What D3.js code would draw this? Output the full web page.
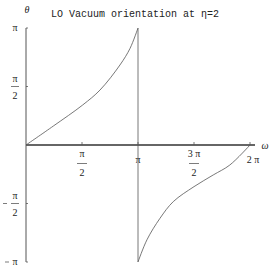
<!DOCTYPE html>
<html>
<head>
<meta charset="utf-8">
<script src="https://cdn.jsdelivr.net/npm/d3@7"></script>
<style>
  body { margin: 0; background: #fff; }
  text { fill: #222; }
</style>
</head>
<body>
<script>
// values, in units of pi
var omega = [0, 0.244, 0.506, 0.661, 0.839, 0.929, 1.0, 1.0, 1.08, 1.196, 1.315, 1.5, 1.672, 1.82, 2.0];
var theta = [0, 0.162, 0.342, 0.47, 0.684, 0.826, 1.0, -1.0, -0.81, -0.627, -0.484, -0.356, -0.256, -0.171, 0];
var xTicks = [0.5, 1, 1.5, 2];
var xTickLabels = [["π", "2"], ["π"], ["3 π", "2"], ["2 π"]];
var yTicks = [1, 0.5, -0.5, -1];
var yTickLabels = [["π"], ["π", "2"], ["π", "2"], ["π"]];
var yTickSigns = ["", "", "-", "-"];

var width = 273, height = 273;
var svg = d3.select("body").append("svg")
    .attr("width", width)
    .attr("height", height);

var x = d3.scaleLinear().domain([0, 2 * Math.PI]).range([26, 250]);
var y = d3.scaleLinear().domain([-Math.PI, Math.PI]).range([262, 28]);

// axes
svg.append("line")
    .attr("x1", x(0)).attr("x2", 255)
    .attr("y1", y(0)).attr("y2", y(0))
    .attr("stroke", "#333").attr("stroke-width", 1.3);
svg.append("line")
    .attr("x1", x(0)).attr("x2", x(0))
    .attr("y1", y(Math.PI)).attr("y2", y(-Math.PI))
    .attr("stroke", "#555").attr("stroke-width", 1);

// x ticks
xTicks.forEach(function(t, i) {
    var px = x(t * Math.PI);
    svg.append("line")
        .attr("x1", px).attr("x2", px)
        .attr("y1", y(0) - 3).attr("y2", y(0))
        .attr("stroke", "#555").attr("stroke-width", 0.8);
    var lab = xTickLabels[i];
    if (lab.length == 1) {
        svg.append("text").attr("x", px + (t == 2 ? 3 : 0)).attr("y", y(0) + 18)
            .attr("text-anchor", "middle")
            .style("font", "10px 'Liberation Serif'")
            .text(lab[0]);
    } else {
        svg.append("text").attr("x", px).attr("y", y(0) + 12)
            .attr("text-anchor", "middle")
            .style("font", "10px 'Liberation Serif'")
            .text(lab[0]);
        svg.append("line")
            .attr("x1", px - 5).attr("x2", px + 5)
            .attr("y1", y(0) + 18.5).attr("y2", y(0) + 18.5)
            .attr("stroke", "#444").attr("stroke-width", 0.7);
        svg.append("text").attr("x", px).attr("y", y(0) + 31)
            .attr("text-anchor", "middle")
            .style("font", "10px 'Liberation Serif'")
            .text(lab[1]);
    }
});

// y ticks
yTicks.forEach(function(t, i) {
    var py = y(t * Math.PI);
    svg.append("line")
        .attr("x1", x(0)).attr("x2", x(0) + 2)
        .attr("y1", py).attr("y2", py)
        .attr("stroke", "#555").attr("stroke-width", 0.8);
    var lab = yTickLabels[i];
    if (lab.length == 1) {
        svg.append("text").attr("x", 15).attr("y", py + 3)
            .attr("text-anchor", "middle")
            .style("font", "10px 'Liberation Serif'")
            .text(lab[0]);
        if (yTickSigns[i]) {
            svg.append("line")
                .attr("x1", 5).attr("x2", 9)
                .attr("y1", py).attr("y2", py)
                .attr("stroke", "#444").attr("stroke-width", 0.7);
        }
    } else {
        svg.append("text").attr("x", 15).attr("y", py - 5)
            .attr("text-anchor", "middle")
            .style("font", "10px 'Liberation Serif'")
            .text(lab[0]);
        svg.append("line")
            .attr("x1", 11).attr("x2", 19)
            .attr("y1", py).attr("y2", py)
            .attr("stroke", "#444").attr("stroke-width", 0.7);
        svg.append("text").attr("x", 15).attr("y", py + 12)
            .attr("text-anchor", "middle")
            .style("font", "10px 'Liberation Serif'")
            .text(lab[1]);
        if (yTickSigns[i]) {
            svg.append("line")
                .attr("x1", 3).attr("x2", 7)
                .attr("y1", py).attr("y2", py)
                .attr("stroke", "#444").attr("stroke-width", 0.7);
        }
    }
});

// axis labels and title
svg.append("text").attr("x", 27).attr("y", 13)
    .attr("text-anchor", "middle")
    .style("font", "italic 10px 'Liberation Serif'")
    .text("θ");
svg.append("text").attr("x", 265).attr("y", 149)
    .attr("text-anchor", "middle")
    .style("font", "italic 10px 'Liberation Serif'")
    .text("ω");
svg.append("text").attr("x", 135).attr("y", 17)
    .attr("text-anchor", "middle")
    .style("font", "10px 'Liberation Mono'")
    .text("LO Vacuum orientation at η=2");

// curve
var pts = omega.map(function(w, i) { return [w * Math.PI, theta[i] * Math.PI]; });
var line = d3.line()
    .x(function(d) { return x(d[0]); })
    .y(function(d) { return y(d[1]); })
    .curve(d3.curveCatmullRom.alpha(0.5));
// draw each branch, plus the jump at pi
svg.append("path")
    .datum(pts.slice(0, 7))
    .attr("d", line)
    .attr("fill", "none").attr("stroke", "#555").attr("stroke-width", 0.8);
svg.append("path")
    .datum(pts.slice(7))
    .attr("d", line)
    .attr("fill", "none").attr("stroke", "#555").attr("stroke-width", 0.8);
svg.append("line")
    .attr("x1", x(pts[6][0])).attr("x2", x(pts[7][0]))
    .attr("y1", y(pts[6][1])).attr("y2", y(pts[7][1]))
    .attr("stroke", "#555").attr("stroke-width", 0.8);
</script>
</body>
</html>
